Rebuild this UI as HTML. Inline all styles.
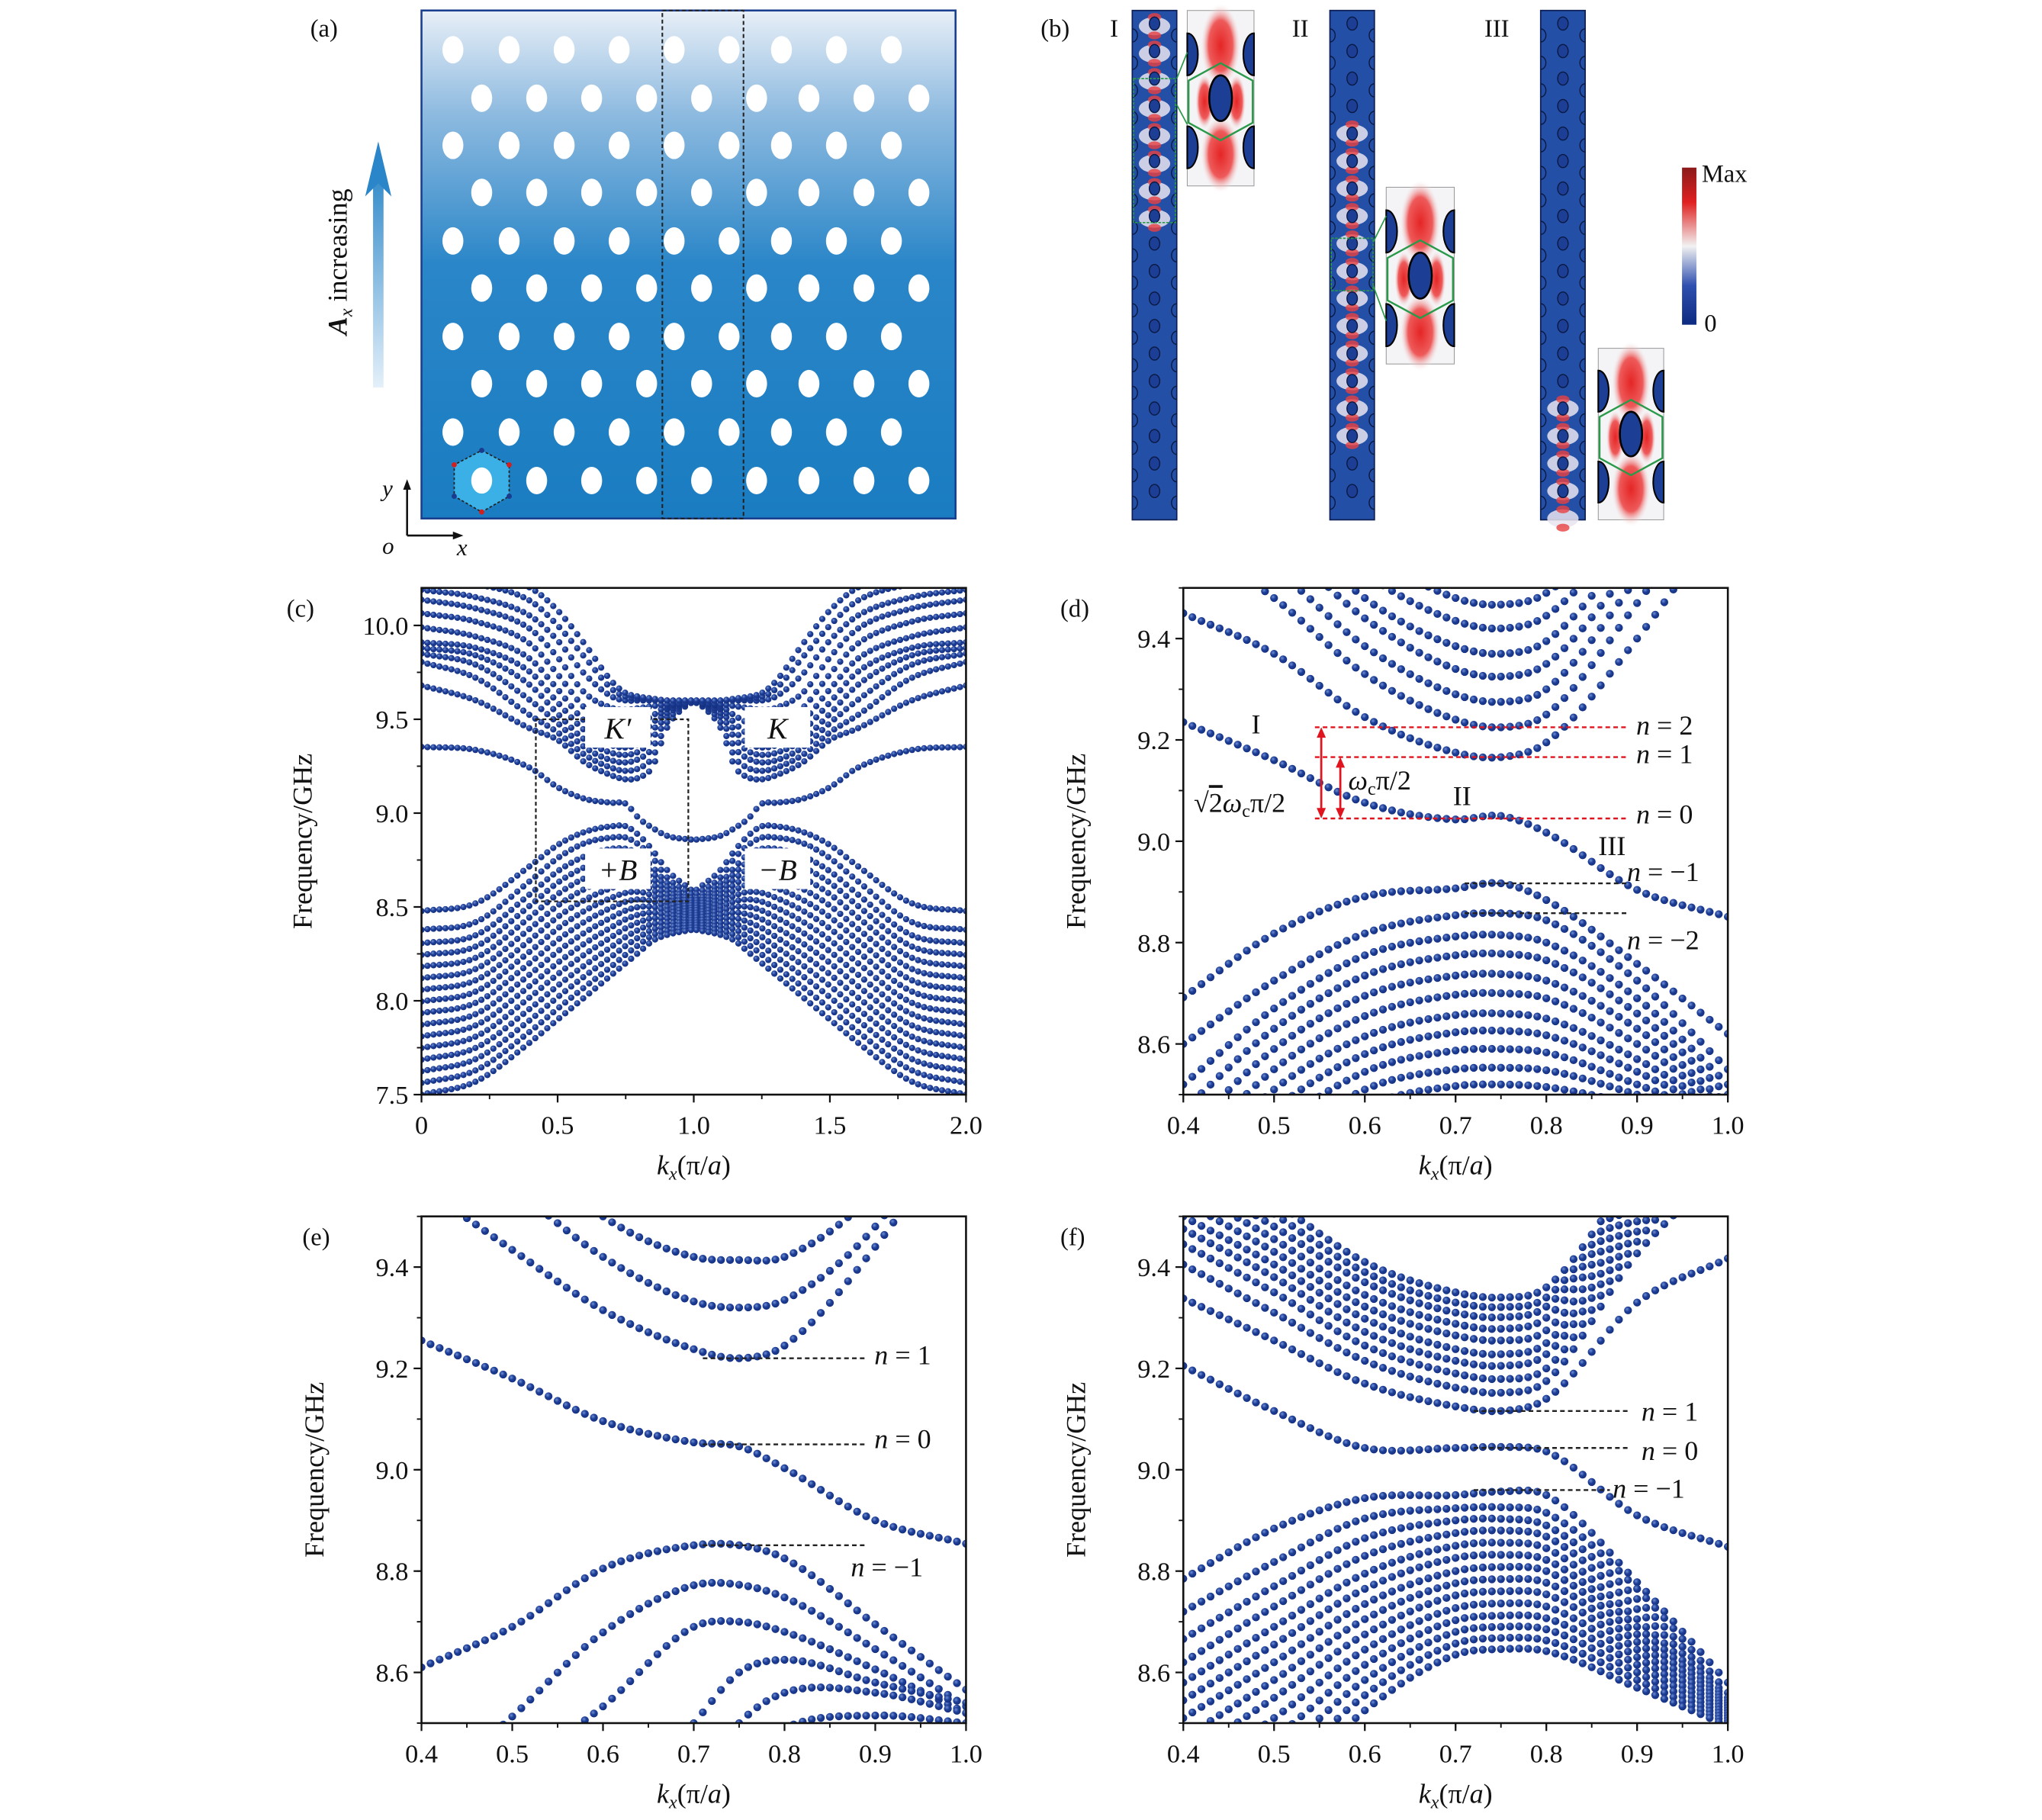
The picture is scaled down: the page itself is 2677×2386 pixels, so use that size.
<!DOCTYPE html>
<html><head><meta charset="utf-8">
<style>
html,body{margin:0;padding:0;background:#fff;}
svg{display:block;}
text{font-family:"Liberation Serif","DejaVu Serif",serif;fill:#111;}
.it{font-style:italic;}
</style></head>
<body>
<svg id="fig" width="2677" height="2386" viewBox="0 0 1560 1390" preserveAspectRatio="none" xmlns="http://www.w3.org/2000/svg">
<defs>
<radialGradient id="ball" cx="0.38" cy="0.35" r="0.7">
<stop offset="0" stop-color="#6f8fd6"/><stop offset="0.45" stop-color="#1f3f97"/><stop offset="1" stop-color="#122e7e"/>
</radialGradient>
<linearGradient id="plateGrad" x1="0" y1="0" x2="0" y2="1">
<stop offset="0" stop-color="#e8eff7"/><stop offset="0.2" stop-color="#8fbbe0"/><stop offset="0.5" stop-color="#2a86c8"/><stop offset="1" stop-color="#1a7cc1"/>
</linearGradient>
<linearGradient id="arrowGrad" x1="0" y1="1" x2="0" y2="0">
<stop offset="0" stop-color="#e4f0fa"/><stop offset="1" stop-color="#2a86c8"/>
</linearGradient>
<linearGradient id="cbar" x1="0" y1="0" x2="0" y2="1">
<stop offset="0" stop-color="#8c1a1a"/><stop offset="0.22" stop-color="#e02020"/><stop offset="0.5" stop-color="#f2f2f2"/><stop offset="0.75" stop-color="#3050b0"/><stop offset="1" stop-color="#0c2a80"/>
</linearGradient>
<radialGradient id="redblob" cx="0.5" cy="0.5" r="0.5">
<stop offset="0" stop-color="#e52525"/><stop offset="0.6" stop-color="#ee5a5a"/><stop offset="1" stop-color="#f4f4f6" stop-opacity="0"/>
</radialGradient>
<clipPath id="clipC"><rect x="322" y="449" width="416" height="387"/></clipPath>
<clipPath id="clipD"><rect x="904" y="449" width="416" height="387"/></clipPath>
<clipPath id="clipE"><rect x="322" y="929" width="416" height="387"/></clipPath>
<clipPath id="clipF"><rect x="904" y="929" width="416" height="387"/></clipPath>
</defs>

<g id="panelA">
<text x="237" y="28" font-size="19">(a)</text>
<rect x="322" y="8" width="408" height="388" fill="url(#plateGrad)" stroke="#1a3f8f" stroke-width="1.5"/>
<g id="holes"></g>
<polygon points="368,344 389,355 389,379 368,391 347,379 347,355" fill="#3bb0e6" stroke="#222" stroke-width="1" stroke-dasharray="2,1.5"/>
<ellipse cx="368" cy="367" rx="8" ry="10" fill="#fff"/>
<circle cx="368" cy="344" r="2" fill="#1a3b8e"/><circle cx="389" cy="355" r="2" fill="#d02020"/><circle cx="389" cy="379" r="2" fill="#1a3b8e"/><circle cx="368" cy="391" r="2" fill="#d02020"/><circle cx="347" cy="379" r="2" fill="#1a3b8e"/><circle cx="347" cy="355" r="2" fill="#d02020"/>
<rect x="506" y="8" width="62" height="388" fill="none" stroke="#222" stroke-width="1.2" stroke-dasharray="3,2"/>
<rect x="285" y="125" width="8" height="171" fill="url(#arrowGrad)"/>
<polygon points="289,108 279,150 289,140 299,150" fill="#2a86c8"/>
<text transform="translate(265,200) rotate(-90)" font-size="21" text-anchor="middle"><tspan font-weight="bold" font-style="italic">A</tspan><tspan font-style="italic" font-size="14" dy="4">x</tspan><tspan dy="-4"> increasing</tspan></text>
<line x1="311" y1="409" x2="311" y2="372" stroke="#111" stroke-width="1.5"/><polygon points="311,366 308,374 314,374" fill="#111"/>
<line x1="311" y1="409" x2="348" y2="409" stroke="#111" stroke-width="1.5"/><polygon points="354,409 346,406 346,412" fill="#111"/>
<text x="292" y="379" font-size="18" class="it">y</text><text x="292" y="423" font-size="18" class="it">o</text><text x="349" y="424" font-size="18" class="it">x</text>
</g>

<g id="panelB">
<text x="795" y="28" font-size="19">(b)</text>
<text x="848" y="28" font-size="19">I</text><text x="987" y="28" font-size="19">II</text><text x="1134" y="28" font-size="19">III</text>
<g id="strips"></g>
<rect x="1285" y="128" width="11" height="120" fill="url(#cbar)"/>
<text x="1300" y="139" font-size="19">Max</text>
<text x="1302" y="253" font-size="19">0</text>
</g>

<g id="plots"></g>
</svg>
<script>
const kGridC = [0, 0.2, 0.4, 0.5, 0.6, 0.7, 0.75, 0.8, 0.85, 0.9, 1.0];
const kGrid = [0.4, 0.5, 0.6, 0.7, 0.75, 0.8, 0.9, 1.0];

const cEdge = [9.353, 9.336, 9.24, 9.138, 9.076, 9.055, 9.05, 8.97, 8.92, 8.88, 8.857];
const cUpper = [
 [9.68,9.60,9.45,9.39,9.27,9.20,9.18,9.19,9.25,9.45,9.61],
 [9.805,9.72,9.52,9.43,9.31,9.24,9.225,9.24,9.30,9.48,9.61],
 [9.85,9.79,9.60,9.48,9.35,9.28,9.27,9.29,9.35,9.51,9.60],
 [9.88,9.84,9.68,9.53,9.39,9.32,9.31,9.33,9.40,9.53,9.60],
 [9.91,9.88,9.75,9.59,9.44,9.36,9.35,9.37,9.44,9.55,9.59],
 [9.99,9.94,9.82,9.66,9.49,9.41,9.40,9.42,9.48,9.56,9.59],
 [10.065,10.02,9.90,9.74,9.56,9.47,9.46,9.48,9.52,9.57,9.59],
 [10.137,10.09,9.98,9.83,9.64,9.56,9.55,9.56,9.57,9.58,9.59],
 [10.19,10.15,10.05,9.92,9.74,9.62,9.60,9.60,9.60,9.60,9.60],
 [10.25,10.22,10.13,10.0,9.83,9.66,9.62,9.61,9.60,9.60,9.60],
 [10.30,10.28,10.20,10.08,9.90,9.70,9.64,9.62,9.61,9.60,9.60]
];
const cLower = [
 [8.478,8.52,8.72,8.83,8.90,8.93,8.93,8.88,8.80,8.70,8.58],
 [8.378,8.42,8.64,8.76,8.84,8.87,8.87,8.83,8.76,8.66,8.56],
 [8.306,8.35,8.57,8.69,8.77,8.81,8.81,8.78,8.71,8.63,8.54],
 [8.244,8.29,8.509,8.629,8.712,8.758,8.763,8.74,8.68,8.609,8.528],
 [8.182,8.23,8.448,8.568,8.654,8.706,8.716,8.70,8.65,8.587,8.515],
 [8.12,8.17,8.387,8.507,8.596,8.654,8.669,8.66,8.62,8.566,8.503],
 [8.058,8.11,8.326,8.446,8.538,8.602,8.622,8.62,8.59,8.544,8.491],
 [7.996,8.05,8.265,8.385,8.48,8.55,8.575,8.58,8.56,8.523,8.479],
 [7.934,7.99,8.204,8.324,8.422,8.498,8.528,8.54,8.53,8.501,8.466],
 [7.872,7.93,8.143,8.263,8.364,8.446,8.481,8.50,8.50,8.48,8.454],
 [7.81,7.87,8.082,8.202,8.306,8.394,8.434,8.46,8.47,8.458,8.442],
 [7.748,7.81,8.021,8.141,8.248,8.342,8.387,8.42,8.44,8.437,8.429],
 [7.686,7.75,7.96,8.08,8.19,8.29,8.34,8.38,8.41,8.415,8.417],
 [7.624,7.69,7.899,8.019,8.132,8.238,8.293,8.34,8.38,8.394,8.405],
 [7.562,7.63,7.838,7.958,8.074,8.186,8.246,8.30,8.35,8.372,8.392],
 [7.50,7.57,7.78,7.90,8.02,8.14,8.20,8.26,8.32,8.35,8.38]
];

const dEdge = [9.235, 9.16, 9.076, 9.043, 9.05, 9.017, 8.904, 8.851];
const dUpper = [
 [9.45,9.37,9.245,9.175,9.166,9.195,9.40,9.65],
 [9.60,9.48,9.33,9.24,9.225,9.25,9.47,9.72],
 [9.66,9.54,9.385,9.29,9.275,9.30,9.52,9.78],
 [9.72,9.60,9.44,9.34,9.325,9.35,9.56,9.82],
 [9.77,9.65,9.48,9.385,9.37,9.395,9.60,9.86],
 [9.82,9.70,9.53,9.435,9.42,9.445,9.64,9.90],
 [9.87,9.75,9.58,9.48,9.467,9.49,9.68,9.94]
];
const dLower = [
 [8.692,8.818,8.891,8.907,8.917,8.884,8.758,8.62],
 [8.60,8.725,8.818,8.854,8.858,8.844,8.725,8.55],
 [8.52,8.67,8.775,8.812,8.815,8.80,8.69,8.52],
 [8.47,8.63,8.735,8.775,8.778,8.765,8.66,8.50],
 [8.42,8.59,8.695,8.735,8.738,8.725,8.63,8.48],
 [8.37,8.55,8.655,8.697,8.70,8.69,8.60,8.47],
 [8.33,8.51,8.615,8.657,8.66,8.65,8.57,8.46],
 [8.29,8.47,8.58,8.623,8.626,8.617,8.545,8.455],
 [8.25,8.43,8.545,8.587,8.59,8.583,8.52,8.45],
 [8.21,8.39,8.51,8.55,8.553,8.548,8.50,8.445],
 [8.17,8.35,8.475,8.517,8.52,8.515,8.48,8.44]
];

const eEdge = [9.255, 9.18, 9.096, 9.054, 9.046, 9.003, 8.90, 8.854];
const eUpper = [
 [9.56,9.434,9.315,9.238,9.22,9.245,9.44,9.70],
 [9.70,9.56,9.42,9.332,9.32,9.335,9.48,9.75],
 [9.80,9.66,9.50,9.42,9.414,9.42,9.55,9.80]
];
const eLower = [
 [8.61,8.69,8.805,8.851,8.851,8.825,8.695,8.566],
 [8.36,8.513,8.679,8.772,8.773,8.748,8.646,8.533],
 [8.22,8.40,8.533,8.69,8.70,8.68,8.606,8.52],
 [7.90,8.10,8.30,8.50,8.60,8.625,8.58,8.54],
 [7.80,8.00,8.20,8.38,8.50,8.56,8.56,8.52],
 [7.70,7.90,8.10,8.30,8.42,8.49,8.515,8.50]
];

const fEdge = [9.205, 9.116, 9.043, 9.043, 9.045, 9.036, 8.91, 8.848];
const fUpper = [
 [9.338,9.255,9.17,9.125,9.116,9.14,9.33,9.417],
 [9.405,9.31,9.215,9.162,9.152,9.175,9.427,9.60],
 [9.445,9.35,9.245,9.19,9.179,9.20,9.45,9.65],
 [9.475,9.38,9.272,9.215,9.205,9.228,9.47,9.68],
 [9.50,9.405,9.298,9.238,9.228,9.25,9.49,9.70],
 [9.53,9.43,9.322,9.265,9.255,9.275,9.51,9.72],
 [9.56,9.455,9.345,9.288,9.278,9.30,9.53,9.74],
 [9.59,9.48,9.37,9.31,9.301,9.322,9.55,9.76],
 [9.62,9.505,9.39,9.33,9.321,9.34,9.57,9.78],
 [9.65,9.53,9.41,9.35,9.34,9.36,9.59,9.80]
];
const fLower = [
 [8.785,8.884,8.944,8.95,8.957,8.95,8.778,8.58],
 [8.72,8.818,8.904,8.924,8.926,8.915,8.765,8.56],
 [8.666,8.77,8.865,8.90,8.903,8.89,8.745,8.55],
 [8.62,8.73,8.83,8.875,8.88,8.868,8.725,8.545],
 [8.58,8.69,8.795,8.85,8.856,8.845,8.705,8.54],
 [8.545,8.655,8.765,8.826,8.832,8.822,8.69,8.535],
 [8.51,8.62,8.735,8.80,8.808,8.80,8.675,8.53],
 [8.47,8.585,8.705,8.776,8.784,8.777,8.66,8.525],
 [8.43,8.55,8.675,8.752,8.76,8.754,8.645,8.52],
 [8.39,8.51,8.645,8.727,8.736,8.73,8.63,8.515],
 [8.35,8.47,8.615,8.703,8.712,8.707,8.615,8.51],
 [8.31,8.43,8.585,8.68,8.69,8.685,8.60,8.505],
 [8.27,8.39,8.555,8.657,8.668,8.663,8.585,8.50],
 [8.23,8.35,8.525,8.635,8.646,8.642,8.57,8.495]
];

const cXTicks = ["0","0.5","1.0","1.5","2.0"];
const cXTickVals = [0,0.5,1.0,1.5,2.0];
const cYTicks = ["7.5","8.0","8.5","9.0","9.5","10.0"];
const cYTickVals = [7.5,8.0,8.5,9.0,9.5,10.0];
const zXTicks = ["0.4","0.5","0.6","0.7","0.8","0.9","1.0"];
const zXTickVals = [0.4,0.5,0.6,0.7,0.8,0.9,1.0];
const zYTicks = ["8.6","8.8","9.0","9.2","9.4"];
const zYTickVals = [8.6,8.8,9.0,9.2,9.4];

const NS = "http://www.w3.org/2000/svg";
function mk(tag, attrs, parent){ const e=document.createElementNS(NS,tag); for(const k in attrs) e.setAttribute(k,attrs[k]); if(parent) parent.appendChild(e); return e; }

function interp(K, V, k){
  const n=K.length;
  if(k<=K[0]) return V[0];
  if(k>=K[n-1]) return V[n-1];
  let i=0; while(k>K[i+1]) i++;
  const h=K[i+1]-K[i], t=(k-K[i])/h;
  const sl=j=>{ if(j===0) return (V[1]-V[0])/(K[1]-K[0]); if(j===n-1) return (V[n-1]-V[n-2])/(K[n-1]-K[n-2]); return ((V[j+1]-V[j])/(K[j+1]-K[j])+(V[j]-V[j-1])/(K[j]-K[j-1]))/2; };
  const m0=sl(i)*h, m1=sl(i+1)*h;
  const t2=t*t,t3=t2*t;
  return (2*t3-3*t2+1)*V[i]+(t3-2*t2+t)*m0+(-2*t3+3*t2)*V[i+1]+(t3-t2)*m1;
}

function makeAxes(cfg){
  const sx=k=>cfg.x0+(k-cfg.kmin)/(cfg.kmax-cfg.kmin)*cfg.w;
  const sy=f=>cfg.y0+cfg.h-(f-cfg.fmin)/(cfg.fmax-cfg.fmin)*cfg.h;
  return {sx,sy};
}

function drawPanel(cfg){
  const plots=document.getElementById('plots');
  const g=mk('g',{},plots);
  
  
  const {sx,sy}=makeAxes(cfg);
  const dg=mk('g',{'clip-path':'url(#'+cfg.clip+')'},g);
  
  
  cfg.series.forEach(s=>{
    const sg=mk('g',{fill:'url(#ball)'},dg);
    
    
    s.bands.forEach(band=>{
      for(let k=s.kFrom; k<=s.kTo+1e-9; k+=cfg.step){
        const f=interp(s.K, band, k);
        if(f<cfg.fmin-0.05||f>cfg.fmax+0.05) continue;
        mk('circle',{cx:sx(k).toFixed(2),cy:sy(f).toFixed(2),r:cfg.r},sg);
        if(s.mirror){ mk('circle',{cx:sx(2-k).toFixed(2),cy:sy(f).toFixed(2),r:cfg.r},sg); }
      }
    });
  });
  const fr=mk('rect',{x:cfg.x0,y:cfg.y0,width:cfg.w,height:cfg.h,fill:'none',stroke:'#111','stroke-width':1.5},g);
  
  
  const bot=cfg.y0+cfg.h;
  const xg=mk('g',{},g);
  
  
  cfg.xTickVals.forEach((v,i)=>{
    mk('line',{x1:sx(v),x2:sx(v),y1:bot,y2:bot+6,stroke:'#111','stroke-width':1.3},xg);
    const t=mk('text',{x:sx(v),y:bot+30,'text-anchor':'middle','font-size':20},xg);
    t.textContent=cfg.xTicks[i];
  });
  for(let v=cfg.kmin; v<=cfg.kmax+1e-9; v+=cfg.xMinor){ mk('line',{x1:sx(v),x2:sx(v),y1:bot,y2:bot+3.5,stroke:'#111','stroke-width':1.1},xg); }
  const yg=mk('g',{},g);
  
  
  cfg.yTickVals.forEach((v,i)=>{
    mk('line',{x1:cfg.x0-6,x2:cfg.x0,y1:sy(v),y2:sy(v),stroke:'#111','stroke-width':1.3},yg);
    const t=mk('text',{x:cfg.x0-10,y:sy(v)+7,'text-anchor':'end','font-size':20},yg);
    t.textContent=cfg.yTicks[i];
  });
  for(let v=cfg.fmin; v<=cfg.fmax+1e-9; v+=cfg.yMinor){ mk('line',{x1:cfg.x0-3.5,x2:cfg.x0,y1:sy(v),y2:sy(v),stroke:'#111','stroke-width':1.1},yg); }
  const xt=mk('text',{x:cfg.x0+cfg.w/2,y:bot+61,'text-anchor':'middle','font-size':21},g);
  
  
  xt.innerHTML='<tspan font-style="italic">k</tspan><tspan font-style="italic" font-size="14" dy="4">x</tspan><tspan dy="-4">(π/</tspan><tspan font-style="italic">a</tspan><tspan>)</tspan>';
  const yt=mk('text',{transform:'translate('+cfg.yTitleX+','+(cfg.y0+cfg.h/2)+') rotate(-90)','text-anchor':'middle','font-size':21},g);
  
  
  yt.textContent='Frequency/GHz';
  const pl=mk('text',{x:cfg.labelX,y:cfg.y0+22,'font-size':19},g);
  
  
  pl.textContent=cfg.label;
  return {g,sx,sy};
}

const P={};
P.c=drawPanel({name:'panel-c',clip:'clipC',x0:322,y0:449,w:416,h:387,kmin:0,kmax:2,fmin:7.5,fmax:10.2,step:0.022,r:2.4,
  xTicks:cXTicks,xTickVals:cXTickVals,yTicks:cYTicks,yTickVals:cYTickVals,xMinor:0.25,yMinor:0.25,yTitleX:238,labelX:219,label:'(c)',
  series:[{name:'upper-bulk',K:kGridC,bands:cUpper,kFrom:0,kTo:1,mirror:true},{name:'edge-state',K:kGridC,bands:[cEdge],kFrom:0,kTo:1,mirror:true},{name:'lower-bulk',K:kGridC,bands:cLower,kFrom:0,kTo:1,mirror:true}]});
const zoomCfg=(name,clip,x0,y0,label,labelX,yTitleX,E,U,L)=>({name,clip,x0,y0,w:416,h:387,kmin:0.4,kmax:1.0,fmin:8.5,fmax:9.5,step:0.01,r:3.0,
  xTicks:zXTicks,xTickVals:zXTickVals,yTicks:zYTicks,yTickVals:zYTickVals,xMinor:0.05,yMinor:0.1,yTitleX,labelX,label,
  series:[{name:'upper-bulk',K:kGrid,bands:U,kFrom:0.4,kTo:1.0},{name:'edge-state',K:kGrid,bands:[E],kFrom:0.4,kTo:1.0},{name:'lower-bulk',K:kGrid,bands:L,kFrom:0.4,kTo:1.0}]});
P.d=drawPanel(zoomCfg('panel-d','clipD',904,449,'(d)',810,829,dEdge,dUpper,dLower));
P.e=drawPanel(zoomCfg('panel-e','clipE',322,929,'(e)',231,247,eEdge,eUpper,eLower));
P.f=drawPanel(zoomCfg('panel-f','clipF',904,929,'(f)',810,829,fEdge,fUpper,fLower));

function dashLine(p,k1,k2,f,color,name){
  const l=mk('line',{x1:p.sx(k1),x2:p.sx(k2),y1:p.sy(f),y2:p.sy(f),stroke:color,'stroke-width':1.4,'stroke-dasharray':'3.5,2.5'},p.g);
  
  
}
function label(p,x,y,html,name,size){
  const t=mk('text',{x:x,y:y,'font-size':size||21},p.g);
  
  
  t.innerHTML=html;
}
(function(){
  const p=P.c;
  const r=mk('rect',{x:p.sx(0.42),y:p.sy(9.5),width:p.sx(0.98)-p.sx(0.42),height:p.sy(8.53)-p.sy(9.5),fill:'none',stroke:'#222','stroke-width':1.3,'stroke-dasharray':'3,2'},p.g);
  
  
  [[447,540,"K′","k-prime-label"],[569,540,"K","k-label"],[447,648,"+B","plus-b-label"],[569,648,"−B","minus-b-label"]].forEach(a=>{
    const b=mk('rect',{x:a[0],y:a[1],width:50,height:31,fill:'#fff'},p.g);
    
    
    const t=mk('text',{x:a[0]+25,y:a[1]+24,'text-anchor':'middle','font-size':23,'font-style':'italic'},p.g);
    
    
    t.textContent=a[2];
  });
})();
(function(){
  const p=P.d, red='#e0141e';
  dashLine(p,0.545,0.89,9.225,red,'n2-line');
  dashLine(p,0.545,0.89,9.166,red,'n1-line');
  dashLine(p,0.545,0.89,9.045,red,'n0-line');
  dashLine(p,0.71,0.89,8.917,'#222','nm1-line');
  dashLine(p,0.71,0.89,8.858,'#222','nm2-line');
  const ar=(x,f1,f2,name)=>{
    const a=mk('g',{},p.g);
    
    
    const y1=p.sy(f1),y2=p.sy(f2);
    mk('line',{x1:x,x2:x,y1:y1+5,y2:y2-5,stroke:red,'stroke-width':1.6},a);
    mk('polygon',{points:x+','+y1+' '+(x-3.5)+','+(y1+8)+' '+(x+3.5)+','+(y1+8),fill:red},a);
    mk('polygon',{points:x+','+y2+' '+(x-3.5)+','+(y2-8)+' '+(x+3.5)+','+(y2-8),fill:red},a);
  };
  ar(p.sx(0.552),9.225,9.045,'sqrt2-arrow');
  ar(p.sx(0.573),9.166,9.045,'wc-arrow');
  label(p,1250,561,'<tspan font-style="italic">n</tspan> = 2','n2-label');
  label(p,1250,583,'<tspan font-style="italic">n</tspan> = 1','n1-label');
  label(p,1250,629,'<tspan font-style="italic">n</tspan> = 0','n0-label');
  label(p,1243,673,'<tspan font-style="italic">n</tspan> = −1','nm1-label');
  label(p,1243,725,'<tspan font-style="italic">n</tspan> = −2','nm2-label');
  label(p,956,560,'I','state-I-label');
  label(p,1110,615,'II','state-II-label');
  label(p,1221,653,'III','state-III-label');
  label(p,1030,603,'<tspan font-style="italic">ω</tspan><tspan font-size="14" dy="4">c</tspan><tspan dy="-4">π/2</tspan>','wc-label');
  label(p,912,620,'√<tspan text-decoration="overline">2</tspan><tspan font-style="italic">ω</tspan><tspan font-size="14" dy="4">c</tspan><tspan dy="-4">π/2</tspan>','sqrt2-wc-label');
})();
(function(){
  const p=P.e;
  dashLine(p,0.71,0.89,9.22,'#222','e-n1-line');
  dashLine(p,0.71,0.89,9.05,'#222','e-n0-line');
  dashLine(p,0.71,0.89,8.851,'#222','e-nm1-line');
  label(p,668,1042,'<tspan font-style="italic">n</tspan> = 1','e-n1-label');
  label(p,668,1106,'<tspan font-style="italic">n</tspan> = 0','e-n0-label');
  label(p,650,1204,'<tspan font-style="italic">n</tspan> = −1','e-nm1-label');
})();
(function(){
  const p=P.f;
  dashLine(p,0.72,0.89,9.116,'#222','f-n1-line');
  dashLine(p,0.72,0.89,9.043,'#222','f-n0-line');
  dashLine(p,0.72,0.87,8.96,'#222','f-nm1-line');
  label(p,1254,1085,'<tspan font-style="italic">n</tspan> = 1','f-n1-label');
  label(p,1254,1115,'<tspan font-style="italic">n</tspan> = 0','f-n0-label');
  label(p,1232,1144,'<tspan font-style="italic">n</tspan> = −1','f-nm1-label');
})();

(function(){
  const hg=document.getElementById('holes');
  const rowsY=[38,75,111,147,184,220,257,293,330,367];
  const oddX=[346,389,431,473,515,557,597,639,681];
  const evenX=[368,410,452,494,536,578,618,660,702];
  rowsY.forEach((y,i)=>{
    (i%2===0?oddX:evenX).forEach((x,j)=>{
      if(i===9&&j===0) return;
      const e=mk('ellipse',{cx:x,cy:y,rx:8,ry:10.5,fill:'#fff'},hg);
      
      
    });
  });
})();

(function(){
  const sg=document.getElementById('strips');
  function strip(x,fy0,fy1,name){
    const g=mk('g',{},sg);
    
    
    mk('rect',{x:x,y:8,width:34,height:389,fill:'#234fa6',stroke:'#0d1f55','stroke-width':1},g);
    for(let y=fy0+8;y<fy1-4;y+=21){
      mk('ellipse',{cx:x+17,cy:y+4,rx:12,ry:7,fill:'#e9e4ee',opacity:0.85},g);
      mk('ellipse',{cx:x+17,cy:y-3,rx:5,ry:3,fill:'#e84040',opacity:0.8},g);
      mk('ellipse',{cx:x+17,cy:y+11,rx:5,ry:3,fill:'#e84040',opacity:0.8},g);
    }
    for(let y=18;y<385;y+=21){
      mk('ellipse',{cx:x+17,cy:y,rx:4,ry:5,fill:'#1c3f95',stroke:'#0a1840','stroke-width':0.8},g);
      mk('path',{d:'M'+x+','+(y+4)+' a4,5 0 0 1 0,10',fill:'none',stroke:'#0a1840','stroke-width':0.8},g);
      mk('path',{d:'M'+(x+34)+','+(y+4)+' a4,5 0 0 0 0,10',fill:'none',stroke:'#0a1840','stroke-width':0.8},g);
    }
  }
  strip(865,8,170,'strip-I');
  strip(1016,90,340,'strip-II');
  strip(1177,300,397,'strip-III');
  function inset(x,y,w,h,name){
    const g=mk('g',{},sg);
    
    
    mk('rect',{x:x,y:y,width:w,height:h,fill:'#f4f4f6',stroke:'#999','stroke-width':0.6},g);
    const cx=x+w/2;
    mk('ellipse',{cx:cx,cy:y+h*0.2,rx:w*0.3,ry:h*0.24,fill:'url(#redblob)'},g);
    mk('ellipse',{cx:cx,cy:y+h*0.82,rx:w*0.3,ry:h*0.22,fill:'url(#redblob)'},g);
    mk('ellipse',{cx:x+w*0.26,cy:y+h*0.52,rx:w*0.14,ry:h*0.16,fill:'url(#redblob)'},g);
    mk('ellipse',{cx:x+w*0.74,cy:y+h*0.52,rx:w*0.14,ry:h*0.16,fill:'url(#redblob)'},g);
    mk('ellipse',{cx:cx,cy:y+h*0.5,rx:w*0.17,ry:h*0.13,fill:'#1c3f95',stroke:'#000','stroke-width':1.5},g);
    [0.25,0.78].forEach(f=>{
      mk('path',{d:'M'+x+','+(y+h*f-h*0.12)+' a'+(w*0.16)+','+(h*0.12)+' 0 0 1 0,'+(h*0.24)+'z',fill:'#1c3f95',stroke:'#000','stroke-width':1.2},g);
      mk('path',{d:'M'+(x+w)+','+(y+h*f-h*0.12)+' a'+(w*0.16)+','+(h*0.12)+' 0 0 0 0,'+(h*0.24)+'z',fill:'#1c3f95',stroke:'#000','stroke-width':1.2},g);
    });
    mk('polygon',{points:cx+','+(y+h*0.3)+' '+(x+w-1)+','+(y+h*0.4)+' '+(x+w-1)+','+(y+h*0.64)+' '+cx+','+(y+h*0.74)+' '+(x+1)+','+(y+h*0.64)+' '+(x+1)+','+(y+h*0.4),fill:'none',stroke:'#2a9a4a','stroke-width':1.4},g);
  }
  inset(907,8,51,134,'inset-I');
  inset(1059,143,52,135,'inset-II');
  inset(1221,266,50,131,'inset-III');
  mk('rect',{x:866,y:60,width:32,height:110,fill:'none',stroke:'#2a9a4a','stroke-width':1,'stroke-dasharray':'2,1'},sg);
  mk('rect',{x:1017,y:182,width:32,height:40,fill:'none',stroke:'#2a9a4a','stroke-width':1,'stroke-dasharray':'2,1'},sg);
  mk('polyline',{points:'899,60 907,40',fill:'none',stroke:'#2a9a4a','stroke-width':1},sg);
  mk('polyline',{points:'899,80 907,95',fill:'none',stroke:'#2a9a4a','stroke-width':1},sg);
  mk('polyline',{points:'1049,185 1059,165',fill:'none',stroke:'#2a9a4a','stroke-width':1},sg);
  mk('polyline',{points:'1049,218 1059,245',fill:'none',stroke:'#2a9a4a','stroke-width':1},sg);
})();
</script>
</body></html>
